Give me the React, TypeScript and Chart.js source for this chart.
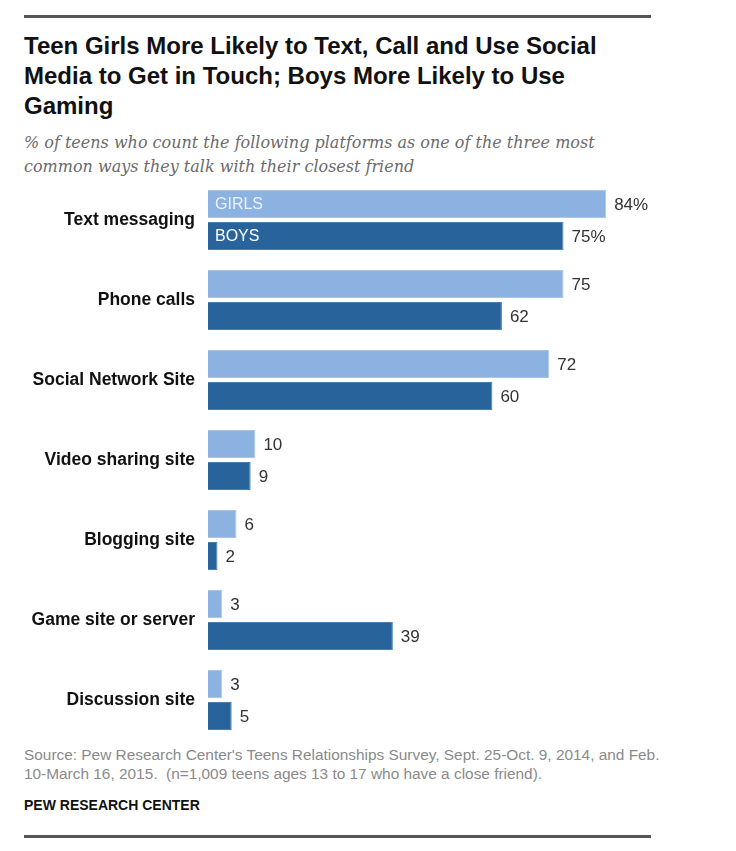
import React, { useEffect, useRef } from "react";
import { Chart, registerables } from "chart.js";

Chart.register(...registerables);

const categories = [
  "Text messaging",
  "Phone calls",
  "Social Network Site",
  "Video sharing site",
  "Blogging site",
  "Game site or server",
  "Discussion site",
];
const girls = [84, 75, 72, 10, 6, 3, 3];
const boys = [75, 62, 60, 9, 2, 39, 5];
const seriesNames = ["GIRLS", "BOYS"];

const GIRLS_COLOR = "#8cb2e1";
const BOYS_COLOR = "#29639c";

const labelPlugin = {
  id: "valueLabels",
  afterDatasetsDraw(chart: any) {
    const ctx = chart.ctx;
    ctx.save();
    chart.data.datasets.forEach((ds: any, di: number) => {
      const meta = chart.getDatasetMeta(di);
      meta.data.forEach((bar: any, i: number) => {
        const v = ds.data[i];
        ctx.font = "17px 'Liberation Sans', Arial, sans-serif";
        ctx.fillStyle = "#333333";
        ctx.textAlign = "left";
        ctx.textBaseline = "middle";
        ctx.fillText(i === 0 ? v + "%" : String(v), bar.x + 8, bar.y + 1);
        if (i === 0) {
          ctx.font = "16px 'Liberation Sans', sans-serif";
          ctx.fillStyle = di === 0 ? "#edf2fa" : "#ffffff";
          ctx.fillText(seriesNames[di], bar.base + 7, bar.y + 1);
        }
      });
    });
    ctx.restore();
  },
};

export default function App() {
  const ref = useRef<HTMLCanvasElement>(null);
  useEffect(() => {
    if (!ref.current) return;
    const chart = new Chart(ref.current, {
      type: "bar",
      data: {
        labels: categories,
        datasets: [
          {
            label: seriesNames[0],
            data: girls,
            backgroundColor: GIRLS_COLOR,
            borderColor: "#a9c6ea",
            borderWidth: 1,
            categoryPercentage: 0.8,
            barPercentage: 0.875,
          },
          {
            label: seriesNames[1],
            data: boys,
            backgroundColor: BOYS_COLOR,
            borderColor: "#4a7fb5",
            borderWidth: 1,
            categoryPercentage: 0.8,
            barPercentage: 0.875,
          },
        ],
      },
      options: {
        indexAxis: "y",
        animation: false,
        responsive: false,
        maintainAspectRatio: false,
        layout: { padding: { left: 0, right: 54, top: 0, bottom: 0 } },
        plugins: {
          legend: { display: false },
          tooltip: { enabled: false },
        },
        scales: {
          x: { display: false, min: 0, max: 100 },
          y: {
            grid: { display: false, drawTicks: false },
            border: { display: false },
            ticks: {
              color: "#111111",
              padding: 13,
              font: { family: "'Liberation Sans', Arial, sans-serif", size: 17.5, weight: "bold" },
            },
            afterFit(scale: any) {
              scale.width = 208;
              scale.paddingTop = 0;
              scale.paddingBottom = 0;
            },
          },
        },
      },
      plugins: [labelPlugin],
    } as any);
    return () => chart.destroy();
  }, []);

  const abs = (top: number, extra: React.CSSProperties = {}): React.CSSProperties => ({
    position: "absolute",
    left: 24,
    top,
    margin: 0,
    whiteSpace: "nowrap",
    ...extra,
  });

  return (
    <div style={{ position: "fixed", left: 0, top: 0, width: 736, height: 851, background: "#fff", overflow: "hidden" }}>
      <div style={{ position: "absolute", left: 24, top: 15, width: 627, height: 3, background: "#555" }} />
      <div
        style={abs(31, {
          fontFamily: "'Liberation Sans', Arial, sans-serif",
          fontWeight: "bold",
          fontSize: 24,
          lineHeight: "30px",
          color: "#111",
        })}
      >
        Teen Girls More Likely to Text, Call and Use Social
        <br />
        Media to Get in Touch; Boys More Likely to Use
        <br />
        Gaming
      </div>
      <div
        style={abs(131, {
          fontFamily: "'DejaVu Serif', Georgia, serif",
          fontStyle: "italic",
          fontSize: 16,
          lineHeight: "24px",
          color: "#6b6b6b",
        })}
      >
        % of teens who count the following platforms as one of the three most
        <br />
        common ways they talk with their closest friend
      </div>
      <canvas ref={ref} width={736} height={560} style={{ position: "absolute", left: 0, top: 180, width: 736, height: 560 }} />
      <div
        style={abs(745, {
          fontFamily: "'Liberation Sans', Arial, sans-serif",
          fontSize: 15.4,
          lineHeight: "19px",
          color: "#8a8a8a",
        })}
      >
        Source: Pew Research Center's Teens Relationships Survey, Sept. 25-Oct. 9, 2014, and Feb.
        <br />
        10-March 16, 2015.&nbsp; (n=1,009 teens ages 13 to 17 who have a close friend).
      </div>
      <div
        style={abs(796, {
          fontFamily: "'Liberation Sans', Arial, sans-serif",
          fontWeight: "bold",
          fontSize: 14,
          lineHeight: "18px",
          color: "#111",
        })}
      >
        PEW RESEARCH CENTER
      </div>
      <div style={{ position: "absolute", left: 24, top: 835, width: 627, height: 3, background: "#555" }} />
    </div>
  );
}
